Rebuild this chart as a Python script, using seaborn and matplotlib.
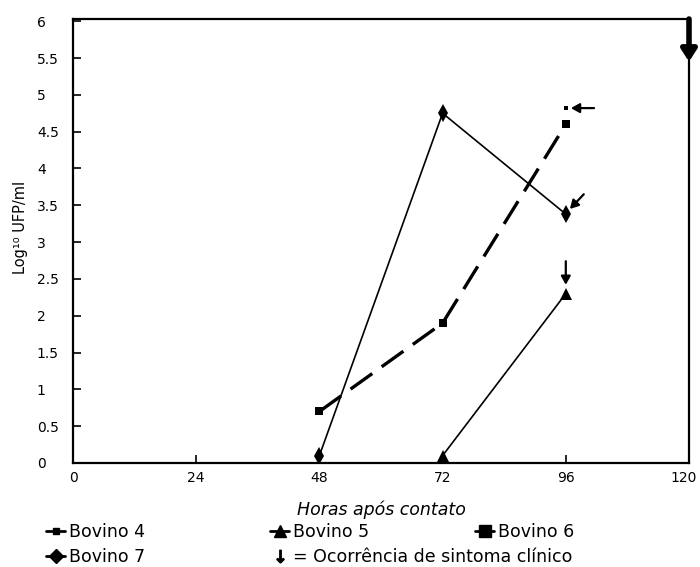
import matplotlib
matplotlib.use("Agg")
import matplotlib.pyplot as plt
import matplotlib.transforms as mtransforms
from matplotlib.lines import Line2D
import seaborn as sns
import pandas as pd

# ---- data ----
hours_b4 = [96]
ufp_b4 = [4.82]
hours_b5 = [72, 96]
ufp_b5 = [0.1, 2.3]
hours_b6 = [48, 72, 96]
ufp_b6 = [0.7, 1.9, 4.6]
hours_b7 = [48, 72, 96]
ufp_b7 = [0.1, 4.75, 3.38]

# symptom arrows: (hour, value at tip)
symptom_b4 = (97, 4.82)
symptom_b7 = (96.8, 3.45)
symptom_b5 = (96, 2.42)
symptom_b8 = (120, 5.45)

x_ticks = [0, 24, 48, 72, 96, 120]
y_ticks = [0, 0.5, 1, 1.5, 2, 2.5, 3, 3.5, 4, 4.5, 5, 5.5, 6]
y_labels = ["0", "0.5", "1", "1.5", "2", "2.5", "3", "3.5", "4", "4.5", "5", "5.5", "6"]

sns.set_style("white")
plt.rcParams["font.family"] = ["DejaVu Sans"]
for k in ["text.color", "axes.labelcolor", "xtick.color", "ytick.color", "axes.edgecolor"]:
    plt.rcParams[k] = "black"

fig = plt.figure(figsize=(7, 5.67), dpi=100)
ax = fig.add_axes([73/700, 1-463/567, 616/700, 444/567])

df6 = pd.DataFrame({"h": hours_b6, "v": ufp_b6})
df7 = pd.DataFrame({"h": hours_b7, "v": ufp_b7})
df5 = pd.DataFrame({"h": hours_b5, "v": ufp_b5})
df4 = pd.DataFrame({"h": hours_b4, "v": ufp_b4})

sns.lineplot(data=df6, x="h", y="v", ax=ax, color="black", lw=2.4,
             linestyle=(0, (8, 3.5)), marker="s", markersize=6, markeredgewidth=0)
sns.lineplot(data=df7, x="h", y="v", ax=ax, color="black", lw=1.2,
             marker="d", markersize=9, markeredgewidth=0)
sns.lineplot(data=df5, x="h", y="v", ax=ax, color="black", lw=1.2,
             marker="^", markersize=9, markeredgewidth=0)
sns.scatterplot(data=df4, x="h", y="v", ax=ax, color="black", marker="s", s=12, linewidth=0)

ax.set_xlim(0, 120)
ax.set_ylim(0, 6.03)
ax.set_xticks(x_ticks)
ax.set_xticklabels([str(t) for t in x_ticks])
ax.set_yticks(y_ticks)
ax.set_yticklabels(y_labels)
for lab in ax.get_yticklabels():
    lab.set_horizontalalignment("left")
ax.tick_params(axis="y", direction="in", length=6, width=1.2, pad=26, labelsize=10, left=True)
ax.tick_params(axis="x", direction="in", length=6, width=1.2, pad=6, labelsize=10, bottom=True)
for s in ax.spines.values():
    s.set_linewidth(1.6)

# nudge last x tick label so it stays inside the figure
last = ax.get_xticklabels()[-1]
last.set_transform(last.get_transform() + mtransforms.ScaledTranslation(-5/100, 0, fig.dpi_scale_trans))

ax.set_xlabel("Horas após contato", fontsize=12.5, fontstyle="italic")
ax.xaxis.set_label_coords(0.5, -0.085)
ax.set_ylabel("Log¹⁰ UFP/ml", fontsize=10.5)
ax.yaxis.set_label_coords(-0.073, 0.53)

# symptom arrows
hp = dict(arrowstyle="-|>,head_width=0.28,head_length=0.5", color="black", lw=1.6, shrinkA=0, shrinkB=0)
ax.annotate("", xy=symptom_b4, xytext=(symptom_b4[0] + 4.5, symptom_b4[1]), arrowprops=hp)
ax.annotate("", xy=symptom_b7, xytext=(symptom_b7[0] + 2.7, symptom_b7[1] + 0.2), arrowprops=hp)
ax.annotate("", xy=symptom_b5, xytext=(symptom_b5[0], symptom_b5[1] + 0.32), arrowprops=hp)
big = dict(arrowstyle="-|>,head_width=0.45,head_length=0.7", color="black", lw=4, shrinkA=0, shrinkB=0)
ax.annotate("", xy=symptom_b8, xytext=(symptom_b8[0], 6.03), arrowprops=big, annotation_clip=False)

# legend
fs = 12.5
h4 = Line2D([], [], color="black", lw=2, marker="s", markersize=5)
h7 = Line2D([], [], color="black", lw=2, marker="D", markersize=7)
h5 = Line2D([], [], color="black", lw=2, marker="^", markersize=9)
harr = Line2D([], [], color="none", marker="$\\downarrow$", markersize=9, markerfacecolor="black", markeredgecolor="black")
h6 = Line2D([], [], color="black", lw=2, marker="s", markersize=9)

kw = dict(frameon=False, fontsize=fs, handlelength=1.1, handletextpad=0.25, labelspacing=0.42,
          loc="upper left", borderaxespad=0, borderpad=0)
leg1 = fig.legend([h4, h7], ["Bovino 4", "Bovino 7"], bbox_to_anchor=(46/700, 1-523/567), **kw)
leg2 = fig.legend([h5, harr], ["Bovino 5", "= Ocorrência de sintoma clínico"], bbox_to_anchor=(270/700, 1-523/567), **kw)
leg3 = fig.legend([h6], ["Bovino 6"], bbox_to_anchor=(475/700, 1-523/567), **kw)

fig.savefig("out.png", dpi=100)
